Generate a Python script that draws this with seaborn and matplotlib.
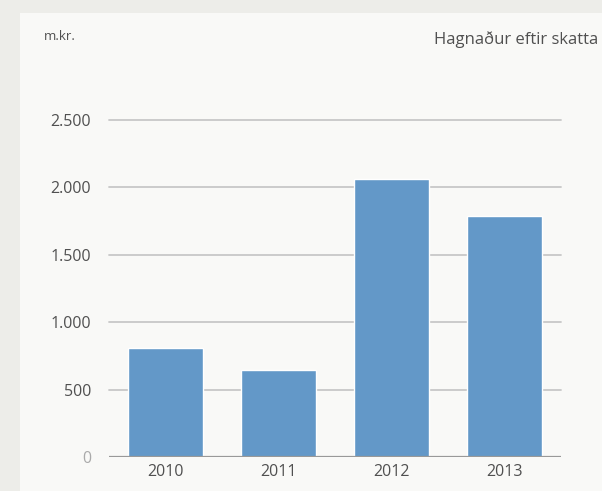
import matplotlib
matplotlib.use("Agg")
import matplotlib.pyplot as plt
import seaborn as sns
import pandas as pd
from matplotlib.patches import Rectangle

years = ["2010", "2011", "2012", "2013"]
profit = [805, 645, 2060, 1785]
yticks = [0, 500, 1000, 1500, 2000, 2500]
ytick_labels = ["0", "500", "1.000", "1.500", "2.000", "2.500"]

sns.set_style("white")
plt.rcParams["font.family"] = ["Open Sans", "DejaVu Sans"]

W, H = 602, 491
fig = plt.figure(figsize=(W / 100, H / 100), dpi=100)
fig.patch.set_facecolor("#EDEDE9")
fig.patches.append(Rectangle((20 / W, 0), 1 - 20 / W, 1 - 13 / H,
                             transform=fig.transFigure, facecolor="#F9F9F7",
                             edgecolor="none", zorder=-1))

ax = fig.add_axes([109 / W, (H - 457) / H, (561 - 109) / W, (457 - 120) / H])
ax.set_facecolor("none")

df = pd.DataFrame({"year": years, "value": profit})
sns.barplot(data=df, x="year", y="value", color="#6398C8", saturation=1,
            width=0.66, ax=ax, zorder=3)

ax.set_ylim(0, 2500)
ax.set_xlim(-0.5, 3.5)
ax.set_yticks(yticks)
ax.set_yticklabels(ytick_labels)
for y in yticks[1:]:
    ax.axhline(y, color="#C8C8C8", lw=1.3, zorder=1, clip_on=False)
ax.axhline(0, color="#999999", lw=1.6, zorder=4)

for s in ax.spines.values():
    s.set_visible(False)
ax.tick_params(axis="both", length=0, labelsize=11.5, labelcolor="#505050")
ax.tick_params(axis="y", pad=13)
ax.tick_params(axis="x", pad=5)
ax.set_xlabel("")
ax.set_ylabel("")
ax.get_yticklabels()[0].set_color("#aaaaaa")

fig.text(44 / W, 1 - 37 / H, "m.kr.", fontsize=9.5, color="#505050", va="center", ha="left")
fig.text(598 / W, 1 - 40 / H, "Hagnaður eftir skatta", fontsize=12, color="#505050",
         va="center", ha="right")

fig.savefig("out.png", dpi=100, facecolor=fig.get_facecolor())
